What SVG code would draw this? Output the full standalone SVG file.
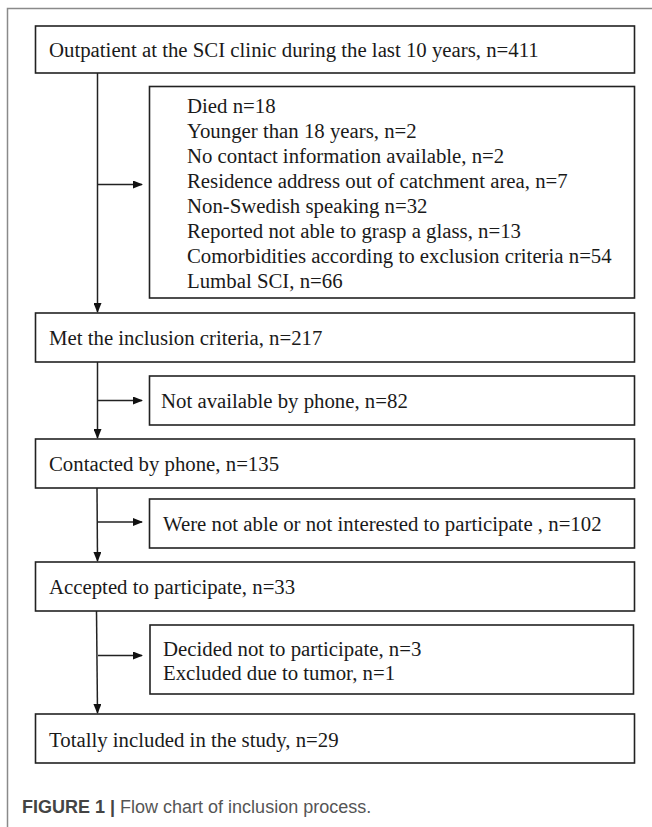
<svg xmlns="http://www.w3.org/2000/svg" width="652" height="827" viewBox="0 0 652 827">
<style>
.box{fill:#fff;stroke:#222;stroke-width:1.6}
.t{font-family:"Liberation Serif","Times New Roman",serif;font-size:20.8px;fill:#1a1a1a}
.c{stroke:#222;stroke-width:1.5;fill:none}
.cap{font-family:"Liberation Sans",Arial,sans-serif;font-size:18px;fill:#555}
</style>
<defs>
<marker id="ah" markerWidth="10" markerHeight="8" refX="9" refY="4" orient="auto" markerUnits="userSpaceOnUse">
<path d="M0,0 L10,4 L0,8 Z" fill="#111"/>
</marker>
</defs>
<rect x="0" y="0" width="652" height="827" fill="#fff"/>
<path d="M7.5,827 V8.5 H652" fill="none" stroke="#8a8a8a" stroke-width="1.5"/>
<g id="connectors">
<line class="c" x1="97.5" y1="73" x2="97.5" y2="312" marker-end="url(#ah)"/>
<line class="c" x1="97.5" y1="184.5" x2="142" y2="184.5" marker-end="url(#ah)"/>
<line class="c" x1="97.5" y1="362" x2="97.5" y2="438" marker-end="url(#ah)"/>
<line class="c" x1="97.5" y1="400.5" x2="142" y2="400.5" marker-end="url(#ah)"/>
<line class="c" x1="97" y1="488" x2="97.5" y2="561" marker-end="url(#ah)"/>
<line class="c" x1="97.5" y1="522" x2="142" y2="522" marker-end="url(#ah)"/>
<line class="c" x1="96.5" y1="611" x2="97.5" y2="713" marker-end="url(#ah)"/>
<line class="c" x1="98" y1="655.5" x2="142" y2="655.5" marker-end="url(#ah)"/>
</g>
<g id="n1"><rect class="box" x="35.5" y="26" width="599" height="47"/>
<text class="t" x="49" y="57">Outpatient at the SCI clinic during the last 10 years, n=411</text></g>
<g id="n2"><rect class="box" x="149.5" y="86.5" width="485" height="211.5"/>
<text class="t" x="187" y="113">Died n=18</text>
<text class="t" x="187" y="138">Younger than 18 years, n=2</text>
<text class="t" x="187" y="163">No contact information available, n=2</text>
<text class="t" x="187" y="188">Residence address out of catchment area, n=7</text>
<text class="t" x="187" y="213">Non-Swedish speaking n=32</text>
<text class="t" x="187" y="238">Reported not able to grasp a glass, n=13</text>
<text class="t" x="187" y="263">Comorbidities according to exclusion criteria n=54</text>
<text class="t" x="187" y="288">Lumbal SCI, n=66</text></g>
<g id="n3"><rect class="box" x="35.5" y="313" width="599" height="49"/>
<text class="t" x="49" y="345">Met the inclusion criteria, n=217</text></g>
<g id="n4"><rect class="box" x="149.5" y="376" width="485" height="49"/>
<text class="t" x="161" y="408">Not available by phone, n=82</text></g>
<g id="n5"><rect class="box" x="35.5" y="439" width="599" height="49"/>
<text class="t" x="49" y="471">Contacted by phone, n=135</text></g>
<g id="n6"><rect class="box" x="149.5" y="499" width="485" height="49"/>
<text class="t" x="163" y="531">Were not able or not interested to participate , n=102</text></g>
<g id="n7"><rect class="box" x="35.5" y="562" width="599" height="49"/>
<text class="t" x="49" y="594">Accepted to participate, n=33</text></g>
<g id="n8"><rect class="box" x="150" y="625" width="483.5" height="69"/>
<text class="t" x="163" y="656">Decided not to participate, n=3</text>
<text class="t" x="163" y="680">Excluded due to tumor, n=1</text></g>
<g id="n9"><rect class="box" x="35.5" y="714" width="599" height="49"/>
<text class="t" x="49" y="746.5">Totally included in the study, n=29</text></g>
<text class="cap" x="22" y="813"><tspan font-weight="bold" fill="#444">FIGURE 1</tspan> <tspan font-weight="bold" fill="#444">|</tspan> Flow chart of inclusion process.</text>
</svg>
